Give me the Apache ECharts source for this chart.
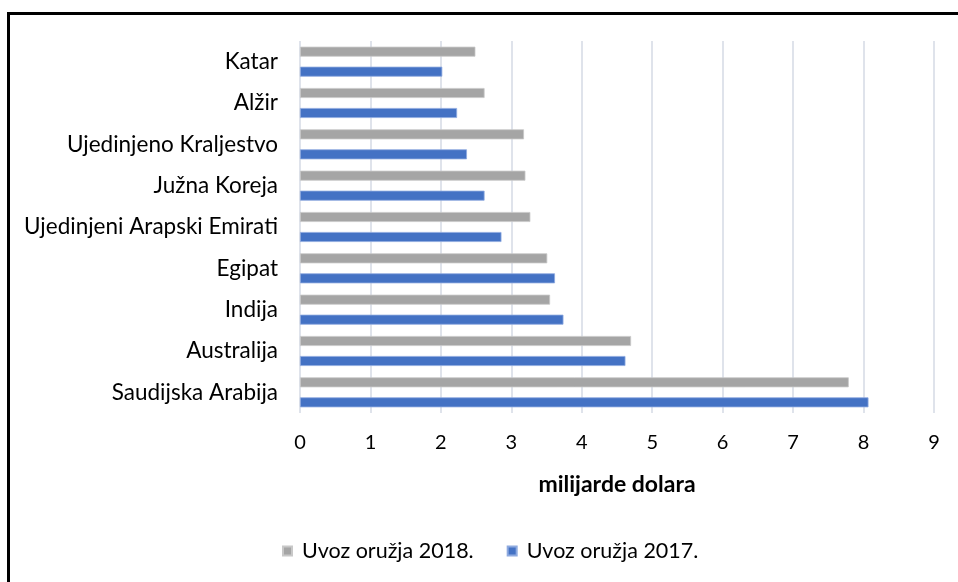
<!DOCTYPE html>
<html>
<head>
<meta charset="utf-8">
<script src="https://cdn.jsdelivr.net/npm/echarts@6/dist/echarts.min.js"></script>
<style>html,body{margin:0;padding:0;background:#fff;}#c{width:958px;height:582px;}</style>
</head>
<body>
<div id="c"></div>
<script>
const categories = ['Saudijska Arabija','Australija','Indija','Egipat','Ujedinjeni Arapski Emirati','Južna Koreja','Ujedinjeno Kraljestvo','Alžir','Katar'];
const values2018 = [7.79, 4.70, 3.55, 3.51, 3.27, 3.20, 3.18, 2.62, 2.49];
const values2017 = [8.07, 4.62, 3.74, 3.62, 2.86, 2.62, 2.37, 2.23, 2.02];
const xTicks = [0,1,2,3,4,5,6,7,8,9];
const names = ['Uvoz oružja 2018.','Uvoz oružja 2017.'];

const font = 'Lato, "Open Sans", sans-serif';
const chart = echarts.init(document.getElementById('c'));
chart.setOption({
  animation: false,
  textStyle: {fontFamily: font},
  graphic: [{type:'rect', shape:{x:8.5,y:13.5,width:1200,height:1200}, style:{fill:'none',stroke:'#000',lineWidth:3}, z:100}],
  grid: {left:300, right:24, top:41, bottom:169, containLabel:false},
  legend: {
    bottom: 15, left: 277, itemWidth: 9, itemHeight: 9, itemGap: 33, icon: 'rect',
    data: names,
    textStyle: {fontSize: 21.5, color:'#000', fontFamily: font, padding:[0,0,0,5]}
  },
  xAxis: {
    type:'value', min:0, max:xTicks[xTicks.length-1], interval:1,
    name:'milijarde dolara', nameLocation:'middle', nameGap:60,
    nameTextStyle:{fontSize:23, fontWeight:'bold', color:'#000', fontFamily: font},
    axisLine:{show:false}, axisTick:{show:false},
    axisLabel:{fontSize:20, color:'#000', margin:20},
    splitLine:{show:true, lineStyle:{color:'#dfe3eb', width:2}}
  },
  yAxis: {
    type:'category', data:categories,
    axisLine:{show:false}, axisTick:{show:false},
    axisLabel:{fontSize:22.5, color:'#000', margin:22}
  },
  series: [
    {name:names[0], type:'bar', data:values2018, barWidth:10, barGap:'100%',
      itemStyle:{color:'#a5a5a5', borderColor:'#c8c8c8', borderWidth:0.8}},
    {name:names[1], type:'bar', data:values2017, barWidth:10, barGap:'100%',
      itemStyle:{color:'#4472c4', borderColor:'#8eaadf', borderWidth:0.8}}
  ]
});
</script>
</body>
</html>
